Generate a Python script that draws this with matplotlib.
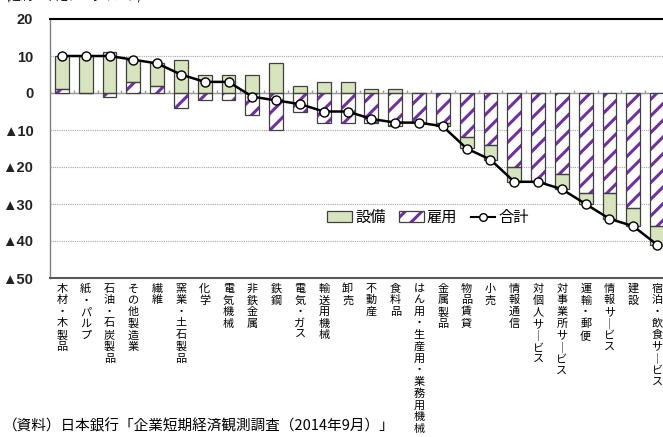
import numpy as np
import matplotlib
matplotlib.use("Agg")
import matplotlib.pyplot as plt
from matplotlib.patches import Patch
from matplotlib.lines import Line2D

plt.rcParams['font.family'] = ['Noto Sans CJK JP', 'DejaVu Sans']
plt.rcParams['hatch.linewidth'] = 2.2

# 業種別 雇用・設備判断DI（過剰－不足）
categories = [
    "木材・木製品", "紙・パルプ", "石油・石炭製品", "その他製造業", "繊維",
    "窯業・土石製品", "化学", "電気機械", "非鉄金属", "鉄鋼", "電気・ガス",
    "輸送用機械", "卸売", "不動産", "食料品", "はん用・生産用・業務用機械",
    "金属製品", "物品賃貸", "小売", "情報通信", "対個人サービス",
    "対事業所サービス", "運輸・郵便", "情報サービス", "建設", "宿泊・飲食サービス",
]
setsubi = [9, 10, 11, 6, 6, 9, 5, 5, 5, 8, 2, 3, 3, 1, 1, 0,
           -1, -3, -4, -4, 0, -4, -3, -7, -5, -5]
koyo = [1, 0, -1, 3, 2, -4, -2, -2, -6, -10, -5, -8, -8, -8, -9, -8,
        -8, -12, -14, -20, -24, -22, -27, -27, -31, -36]
y_ticks = [20, 10, 0, -10, -20, -30, -40, -50]

setsubi = np.array(setsubi)
koyo = np.array(koyo)
total = setsubi + koyo
n = len(categories)
x = np.arange(n)

GREEN = '#d7e4bd'
PURPLE = '#7030a0'
EDGE = '#404040'
W = 0.58

fig = plt.figure(figsize=(6.63, 4.37), dpi=100)
ax = fig.add_axes([50 / 663, 1 - 278 / 437, 619 / 663, (278 - 19) / 437])

# 雇用: stacked first from zero
ax.bar(x, koyo, W, facecolor='white', edgecolor=PURPLE, linewidth=0,
       hatch='//', zorder=3)
ax.bar(x, koyo, W, fill=False, edgecolor=EDGE, linewidth=0.9, zorder=3.1)

# 設備: stacked on top of 雇用 when it has the same sign
bottom = np.where(np.sign(setsubi) == np.sign(koyo), koyo, 0)
ax.bar(x, setsubi, W, bottom=bottom, facecolor=GREEN, edgecolor=EDGE,
       linewidth=0.9, zorder=3)

# 合計
ax.plot(x, total, color='black', lw=1.8, marker='o', ms=6.5,
        mfc='white', mec='black', mew=1.0, zorder=5)

# zero line with category boundary ticks
ax.axhline(0, color='#999999', lw=1.0, zorder=2)
ax.vlines(np.arange(n + 1) - 0.5, 0, 0.8, color='#999999', lw=1.0, zorder=2)

ax.set_xlim(-0.5, n - 0.5)
ax.set_ylim(-50, 20)
ax.set_yticks(y_ticks)
ax.set_yticklabels([f"▲{abs(v)}" if v < 0 else str(v) for v in y_ticks])
for lbl in ax.get_yticklabels():
    lbl.set_fontfamily(['Liberation Sans', 'Noto Sans CJK JP'])
    lbl.set_fontweight('bold')
    lbl.set_fontsize(10.5)
    lbl.set_color('#222222')
ax.tick_params(axis='y', length=0, pad=12)

vert = ["\n".join(c.replace("ー", "｜")) for c in categories]
ax.set_xticks(x)
ax.set_xticklabels(vert, fontsize=8, linespacing=1.2, va='top')
ax.tick_params(axis='x', length=0, pad=4)

ax.yaxis.grid(True, ls=(0, (1, 1)), color='#a6a6a6', lw=0.8, zorder=1)
ax.set_axisbelow(True)

ax.spines['right'].set_visible(False)
ax.spines['top'].set_color('black')
ax.spines['top'].set_linewidth(1.5)
ax.spines['left'].set_color('#808080')
ax.spines['left'].set_linewidth(1.0)
ax.spines['bottom'].set_color('#595959')
ax.spines['bottom'].set_linewidth(1.5)

handles = [
    Patch(facecolor=GREEN, edgecolor=EDGE, linewidth=0.9),
    (Patch(facecolor='white', edgecolor=PURPLE, linewidth=0, hatch='//'),
     Patch(fill=False, edgecolor=EDGE, linewidth=0.9)),
    Line2D([], [], color='black', lw=1.5, marker='o', ms=5.5,
           mfc='white', mec='black', mew=1.0),
]
ax.legend(handles, ["設備", "雇用", "合計"], ncol=3, frameon=False,
          fontsize=11, loc='center', bbox_to_anchor=(0.611, 0.233),
          handlelength=1.6, handletextpad=0.2, columnspacing=0.9)

fig.text(6 / 663, 1 - 3 / 437, "(過剰－不足、%ポイント)", fontsize=8.5,
         va='bottom', ha='left')
fig.text(3 / 663, 1 - 419 / 437, "（資料）日本銀行「企業短期経済観測調査（2014年9月）」",
         fontsize=10.5, va='top', ha='left')

fig.savefig('out.png', dpi=100)
